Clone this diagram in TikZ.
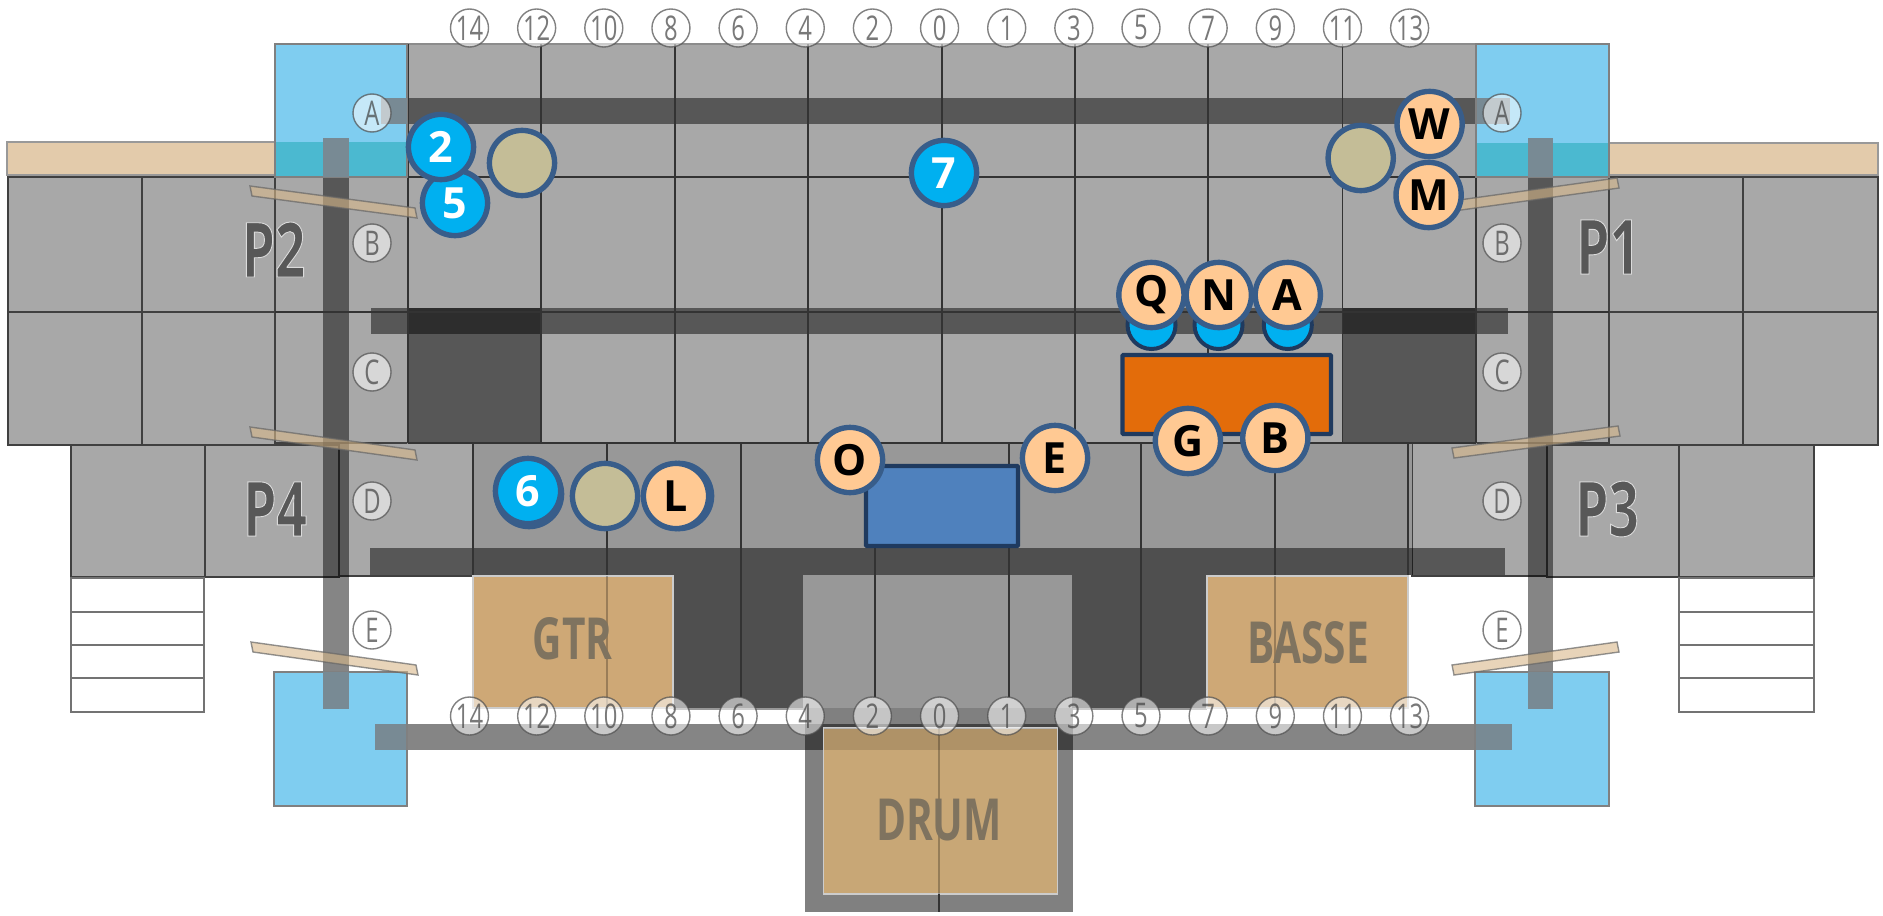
\documentclass[tikz,border=0pt]{standalone}
\usepackage{fontspec}
\usetikzlibrary{calc}
\setmainfont{Open Sans}
\newfontfamily\condfont[FakeStretch=.70]{Open Sans}
\newfontfamily\wordfont[FakeStretch=.70]{Open Sans}
\definecolor{panel}{HTML}{A8A8A8}
\definecolor{stagegrey}{HTML}{989898}
\definecolor{skyblue}{HTML}{7FCDF0}
\definecolor{tealband}{HTML}{4BB9D0}
\definecolor{barblue}{HTML}{788A94}
\definecolor{sand}{HTML}{E3CBAB}
\definecolor{tanbox}{HTML}{CEA876}
\definecolor{beamtan}{HTML}{D8B88A}
\definecolor{drumtan}{HTML}{C8A776}
\definecolor{ringblue}{HTML}{385D8A}
\definecolor{navy}{HTML}{1F3A5F}
\definecolor{peach}{HTML}{FFC993}
\definecolor{cyanblue}{HTML}{00B0F0}
\definecolor{khaki}{HTML}{C4BD97}
\definecolor{orangebox}{HTML}{E36C0A}
\definecolor{bluebox}{HTML}{4F81BD}
\definecolor{wordgrey}{HTML}{7F735F}
\definecolor{pgrey}{HTML}{585858}
\newcommand{\outlined}[1]{\special{pdf:code 2 Tr 0.45 w 0.86 0.86 0.86 RG}#1\special{pdf:code 0 Tr}}
\tikzset{
  panelbox/.style={fill=panel,draw=black!75,line width=.7pt},
  gridline/.style={draw=black!80,line width=.7pt},
  faintline/.style={draw=black,opacity=.25,line width=.7pt},
  shade/.style={fill=black,fill opacity=.48},
  blueroom/.style={fill=skyblue,draw=black!50,line width=1pt},
  beam/.style={draw=black!60,line width=.7pt,fill=beamtan,fill opacity=.6,draw opacity=.7},
  stairbox/.style={fill=white,draw=black!55,line width=1pt},
  instr/.style={draw=white!80!black,line width=.9pt},
  gridmark/.style={circle,minimum size=19pt,inner sep=0pt,fill=white,fill opacity=.55,
     draw=black!70,draw opacity=.7,line width=.7pt,text opacity=.7,text=black!75,
     font=\condfont\fontsize{17}{17}\selectfont},
  person/.style={circle,minimum size=32.6pt,inner sep=0pt,fill=peach,draw=ringblue,line width=2.7pt,
     text=black,font=\fontsize{21.5}{21.5}\selectfont\bfseries},
  num/.style={person,fill=cyanblue,text=white},
  stool/.style={person,fill=khaki},
  under/.style={circle,minimum size=24pt,inner sep=0pt,fill=cyanblue,draw=navy,line width=2pt},
  crate/.style={fill=#1,draw=navy,line width=2.2pt,rounded corners=.5pt},
  pen/.style={text=pgrey,font=\condfont\fontsize{38}{38}\selectfont\bfseries},
  word/.style={text=wordgrey,font=\wordfont\fontsize{29}{29}\selectfont\bfseries}
}
\begin{document}
\begin{tikzpicture}[x=.5pt,y=-.5pt]
\useasboundingbox (0,0) rectangle (1883,915);
% side panels
\foreach \a/\b/\c/\d in {8/142/177/312,142/275/177/312,8/142/312/445,142/275/312/445,
   275/408/177/312,275/408/312/443,1476/1609/177/312,1476/1609/312/443,
   1609/1743/177/312,1743/1878/177/312,1609/1743/312/445,1743/1878/312/445,
   71/205/445/577,205/339/445/577,339/473/443/576,1412/1547/443/576,1547/1679/445/577,1679/1814/445/577}
  \path[panelbox] (\a,\c) rectangle (\b,\d);
% upper stage
\path[fill=panel,draw=black!45,line width=.7pt] (408,44) rectangle (1476,443);
% lower stage
\path[fill=stagegrey] (473,443) rectangle (1412,575);
\path[fill=stagegrey] (673,575) rectangle (1207,710);
% drum riser
\path[fill=black!50] (805,708) rectangle (1073,912);
% dark zones and bars
\path[shade] (408,308) rectangle (541,443);
\path[shade] (1342.5,308) rectangle (1476,443);
\path[shade] (673,575) rectangle (803,708);
\path[shade] (1072,575) rectangle (1207,708);
\path[shade] (381,98) rectangle (1509.5,124);
\path[shade] (371,308) rectangle (1507.5,334);
\path[shade] (370,548) rectangle (1505,575);
\path[shade] (375,724) rectangle (1511.5,750);
\path[shade] (323,138) rectangle (349,709);
\path[shade] (1527.5,138) rectangle (1553,709);
% grid lines
\foreach \x in {541,675,808,942,1075,1208,1342.5}
  \draw[gridline] (\x,44) -- (\x,443);
\draw[gridline] (408,44) -- (408,443);
\draw[gridline] (1476,44) -- (1476,443);
\draw[gridline] (275,177) -- (1609,177);
\draw[gridline] (275,312) -- (1609,312);
\draw[gridline] (408,443) -- (1476,443);
\foreach \x in {473,607,1275,1408}
  \draw[gridline] (\x,443) -- (\x,575);
\foreach \x in {741,875,1009,1141}
  \draw[gridline] (\x,443) -- (\x,697);
% stairs
\foreach \t/\u in {578/612,612/645,645/678,678/712}{
  \path[stairbox] (71,\t) rectangle (204,\u);
  \path[stairbox] (1679,\t) rectangle (1814,\u);
}
% beige strips
\path[fill=sand,draw=black!40,line width=1pt] (7,142) rectangle (275,175);
\path[fill=sand,draw=black!40,line width=1pt] (1608,143) rectangle (1878,175);
% blue rooms
\path[blueroom] (275,44) rectangle (407,177);
\path[blueroom] (1476,44) rectangle (1608.5,177);
\path[blueroom] (274,672) rectangle (407,806);
\path[blueroom] (1475,672) rectangle (1608.5,806);
\path[fill=tealband] (276,142) rectangle (406,176);
\path[fill=tealband] (1477,143) rectangle (1607.5,176);
\foreach \a/\c/\b/\d in {381/98/407/124,323/138/349/177,323/672/349/709,375/724/406/750,
   1477/98/1509.5/124,1527.5/138/1553/177,1527.5/672/1553/709,1476/724/1511.5/750}
  \path[fill=barblue] (\a,\c) rectangle (\b,\d);
% instrument zones
\path[fill=tanbox,instr] (473,576) rectangle (673,708);
\path[fill=tanbox,instr] (1207,576) rectangle (1408,708);
\path[fill=drumtan,instr] (823.5,728) rectangle (1057.5,894);
\path[fill=black,fill opacity=.12] (824,728) rectangle (1057,750);
\draw[faintline] (607,576) -- (607,708);
\draw[faintline] (1275,576) -- (1275,708);
\draw[faintline] (939,728) -- (939,894);
\draw[gridline] (939,894) -- (939,912);
\node[word] (gtr) at (572.5,639) {GTR};
\node[word] (basse) at (1308,643) {BASSE};
\node[word] (drum) at (939,820) {DRUM};
% door beams
\foreach \a/\c/\b/\d in {251/191/416/213,251/432/416/455,252/647/417/670,
   1453/206/1618/183,1453/453/1619/431,1453/670/1618/647}
  \path[beam] ($(\a,\c)+(-1,-5)$) -- ($(\b,\d)+(-1,-5)$) -- ($(\b,\d)+(1,5)$) -- ($(\a,\c)+(1,5)$) -- cycle;
% pit labels
\node[pen] (p1) at (1608,247) {\outlined{P1}};
\node[pen] (p2) at (273.5,249.5) {\outlined{P2}};
\node[pen] (p3) at (1607,509) {\outlined{P3}};
\node[pen] (p4) at (275,509) {\outlined{P4}};
% grid marks
\foreach \n/\x in {14/469.5,12/536.65,10/603.8,8/670.95,6/738.1,4/805.25,2/872.4,0/939.55,1/1006.7,3/1073.85,5/1141,7/1208.15,9/1275.3,11/1342.45,13/1409.6}{
  \node[gridmark] (top\n) at (\x,28) {\n};
  \node[gridmark] (bot\n) at (\x,716) {\n};
}
\foreach \n/\y in {A/113,B/243,C/372,D/501,E/630}{
  \node[gridmark] (l\n) at (372,\y) {\n};
  \node[gridmark] (r\n) at (1502,\y) {\n};
}
% crates
\path[crate=orangebox] (1122.5,355) rectangle (1331,434);
\path[crate=bluebox] (866,466) rectangle (1018,546);
% performers
\node[under] (uq) at (1151.5,325) {};
\node[under] (un) at (1218.5,325) {};
\node[under] (ua) at (1287.8,325) {};
\node[num] (n5) at (455,203) {5};
\node[num] (n2) at (441,147) {2};
\node[stool] (s1) at (522,163) {};
\node[num] (n7) at (944,173) {7};
\node[stool] (s2) at (1360.7,158) {};
\node[person] (pw) at (1429.6,124) {W};
\node[person] (pm) at (1428.6,195) {M};
\node[person] (pq) at (1151.4,295) {Q};
\node[person] (pn) at (1218.8,295) {N};
\node[person] (pa) at (1287.8,295) {A};
\node[person] (pg) at (1187.9,441) {G};
\node[person] (pb) at (1275.3,438) {B};
\node[person] (po) at (850,460) {O};
\node[person] (pe) at (1055,458) {E};
\node[num] (n6back) at (529,494) {};
\node[num] (n6) at (528,491) {6};
\node[stool] (s3) at (605,496) {};
\node[person] (lback) at (679,496) {};
\node[person] (pl) at (676,496) {L};
\end{tikzpicture}
\end{document}
